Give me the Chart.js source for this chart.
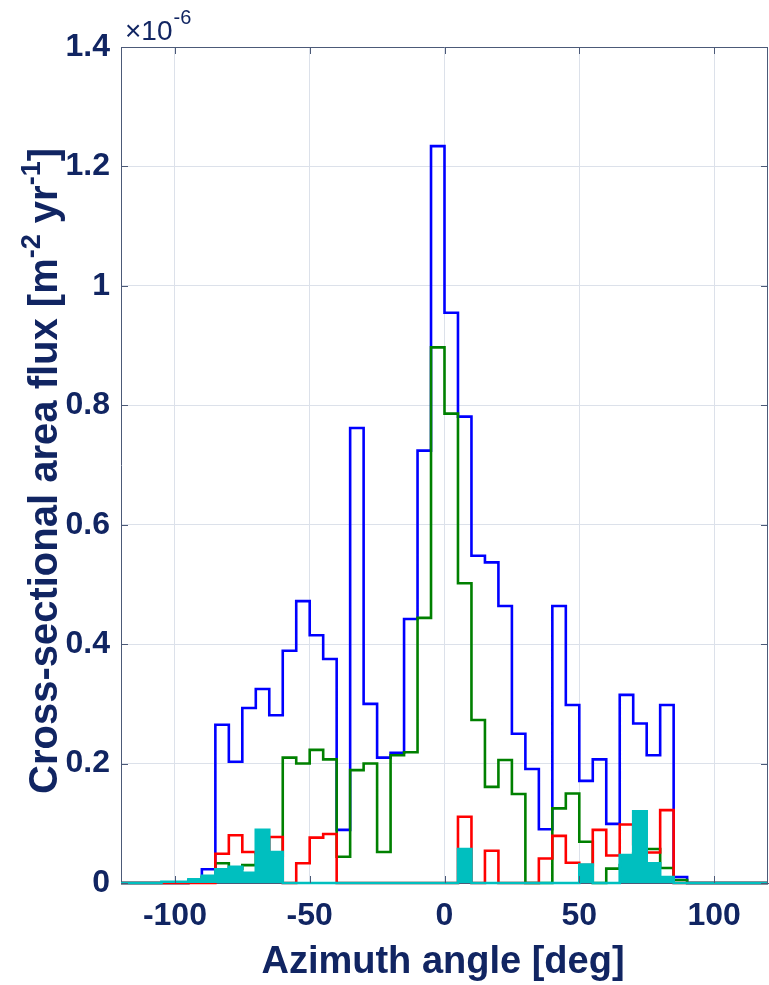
<!DOCTYPE html>
<html>
<head>
<meta charset="utf-8">
<script src="https://cdn.jsdelivr.net/npm/chart.js@4.4.1/dist/chart.umd.min.js"></script>
<style>
  html, body { margin: 0; padding: 0; background: #fff; }
  #wrap { width: 769px; height: 985px; position: relative; }
</style>
</head>
<body>
<div id="wrap"><canvas id="flux"></canvas></div>
<script>
// left edge of each 5 deg azimuth bin
const binEdges = [
  -120, -115, -110, -105, -100, -95, -90, -85, -80, -75, -70, -65,
  -60, -55, -50, -45, -40, -35, -30, -25, -20, -15, -10, -5,
  0, 5, 10, 15, 20, 25, 30, 35, 40, 45, 50, 55,
  60, 65, 70, 75, 80, 85, 90, 95, 100, 105, 110, 115
];
const lastEdge = 120;

// flux per bin, in units of 1e-6 m^-2 yr^-1
const blueFlux = [
  0, 0, 0, 0, 0, 0.004, 0.023, 0.265, 0.203, 0.293, 0.325, 0.281,
  0.389, 0.472, 0.415, 0.375, 0.089, 0.762, 0.300, 0.210, 0.218, 0.442, 0.724, 1.234,
  0.955, 0.781, 0.548, 0.537, 0.464, 0.250, 0.191, 0.090, 0.464, 0.298, 0.171, 0.207,
  0.099, 0.315, 0.267, 0.214, 0.298, 0.010, 0, 0, 0, 0, 0, 0
];
const greenFlux = [
  0, 0, 0, 0, 0, 0.003, 0.010, 0.033, 0.024, 0.030, 0.050, 0.045,
  0.210, 0.200, 0.223, 0.207, 0.044, 0.189, 0.200, 0.052, 0.214, 0.219, 0.444, 0.897,
  0.786, 0.502, 0.273, 0.161, 0.206, 0.149, 0, 0, 0.125, 0.150, 0.069, 0,
  0.024, 0.030, 0.050, 0.057, 0.025, 0.005, 0, 0, 0, 0, 0, 0
];
const redFlux = [
  0, 0, 0, 0, 0, 0, 0, 0.049, 0.080, 0.052, 0.050, 0.077,
  0, 0.033, 0.076, 0.082, 0, 0, 0, 0, 0, 0, 0, 0,
  0, 0.111, 0, 0.054, 0, 0, 0, 0.041, 0.079, 0.034, 0.030, 0.089,
  0.046, 0.098, 0.065, 0.051, 0.122, 0, 0, 0, 0, 0, 0, 0
];
const cyanFlux = [
  0, 0, 0, 0.002, 0.002, 0.006, 0.012, 0.023, 0.027, 0.017, 0.089, 0.052,
  0, 0, 0, 0, 0, 0, 0, 0, 0, 0, 0, 0,
  0, 0.057, 0, 0, 0, 0, 0, 0, 0, 0, 0.031, 0,
  0, 0.047, 0.120, 0.033, 0.010, 0, 0, 0, 0, 0, 0, 0
];

const xTicks = [-100, -50, 0, 50, 100];
const yTicks = [0, 0.2, 0.4, 0.6, 0.8, 1, 1.2, 1.4];

const textColor = "#112562";
const axisColor = "#4c5a78";
const gridColor = "#dce1ea";
const tickFont = {
  family: "'Liberation Sans Narrow', 'Liberation Sans', Arial, sans-serif",
  size: 32,
  weight: "bold",
};

function steps(values) {
  const pts = binEdges.map((x, i) => ({ x: x, y: values[i] }));
  pts.push({ x: lastEdge, y: values[values.length - 1] });
  return pts;
}

// chart.js "before": horizontal at the previous value, then vertical
function histLine(values, color, filled) {
  return {
    data: steps(values),
    stepped: "before",
    borderColor: color,
    backgroundColor: color,
    borderWidth: 2.6,
    pointRadius: 0,
    fill: filled ? "origin" : false,
    clip: 4,
  };
}

// box, inward ticks, exponent and the two axis titles
const decorations = {
  id: "decorations",
  afterDraw(chart) {
    const ctx = chart.ctx;
    const a = chart.chartArea;
    const xs = chart.scales.x;
    const ys = chart.scales.y;
    ctx.save();
    ctx.strokeStyle = axisColor;
    ctx.lineWidth = 1;
    ctx.beginPath();
    ctx.moveTo(a.left, a.top + 0.5);
    ctx.lineTo(a.right, a.top + 0.5);
    ctx.moveTo(a.right - 0.5, a.top);
    ctx.lineTo(a.right - 0.5, a.bottom);
    xTicks.forEach((v) => {
      const px = Math.round(xs.getPixelForValue(v)) + 0.5;
      ctx.moveTo(px, a.bottom);
      ctx.lineTo(px, a.bottom - 7);
      ctx.moveTo(px, a.top);
      ctx.lineTo(px, a.top + 7);
    });
    yTicks.forEach((v) => {
      const py = Math.round(ys.getPixelForValue(v)) + 0.5;
      ctx.moveTo(a.left, py);
      ctx.lineTo(a.left + 7, py);
      ctx.moveTo(a.right, py);
      ctx.lineTo(a.right - 7, py);
    });
    ctx.stroke();

    ctx.fillStyle = textColor;
    ctx.textBaseline = "alphabetic";

    // exponent
    ctx.textAlign = "left";
    ctx.font = "28px 'Liberation Sans', Arial, sans-serif";
    ctx.fillText("\u00d710", 125, 40);
    const w = ctx.measureText("\u00d710").width;
    ctx.font = "20px 'Liberation Sans', Arial, sans-serif";
    ctx.fillText("-6", 125 + w + 1, 24);

    // x title
    ctx.textAlign = "center";
    ctx.font = "bold 38px 'Liberation Sans', Arial, sans-serif";
    ctx.fillText("Azimuth angle [deg]", 443, 973);

    // y title with superscripts
    const big = "bold 40px 'Liberation Sans', Arial, sans-serif";
    const sup = "bold 27px 'Liberation Sans', Arial, sans-serif";
    const parts = [
      ["Cross-sectional area flux [m", big, 0],
      ["-2", sup, -17],
      [" yr", big, 0],
      ["-1", sup, -17],
      ["]", big, 0],
    ];
    ctx.translate(57, 794);
    ctx.rotate(-Math.PI / 2);
    ctx.textAlign = "left";
    let pos = 0;
    parts.forEach(([txt, font, dy]) => {
      ctx.font = font;
      ctx.fillText(txt, pos, dy);
      pos += ctx.measureText(txt).width;
    });
    ctx.restore();
  },
};

const fluxChart = new Chart(document.getElementById("flux").getContext("2d"), {
  type: "line",
  data: {
    datasets: [
      histLine(cyanFlux, "#00bfbf", true),
      histLine(redFlux, "#ff0000", false),
      histLine(greenFlux, "#008000", false),
      histLine(blueFlux, "#0000ff", false),
    ],
  },
  options: {
    responsive: true,
    maintainAspectRatio: false,
    animation: false,
    layout: { padding: { top: 47, right: 1, left: 0, bottom: 0 } },
    plugins: {
      legend: { display: false },
      tooltip: { enabled: false },
    },
    scales: {
      x: {
        type: "linear",
        min: -120,
        max: 120,
        afterBuildTicks: (s) => {
          s.ticks = xTicks.map((v) => ({ value: v }));
        },
        afterFit: (s) => {
          s.height = 102;
        },
        grid: { color: gridColor, drawTicks: false },
        border: { color: axisColor },
        ticks: {
          font: tickFont,
          color: textColor,
          padding: 14,
          maxRotation: 0,
          callback: (v) => String(v),
        },
      },
      y: {
        type: "linear",
        min: 0,
        max: 1.4,
        afterBuildTicks: (s) => {
          s.ticks = yTicks.map((v) => ({ value: v }));
        },
        afterFit: (s) => {
          s.width = 121;
        },
        grid: { color: gridColor, drawTicks: false },
        border: { color: axisColor },
        ticks: {
          font: tickFont,
          color: textColor,
          padding: 11,
          callback: (v) => String(+v.toFixed(1)),
        },
      },
    },
  },
  plugins: [decorations],
});
</script>
</body>
</html>
